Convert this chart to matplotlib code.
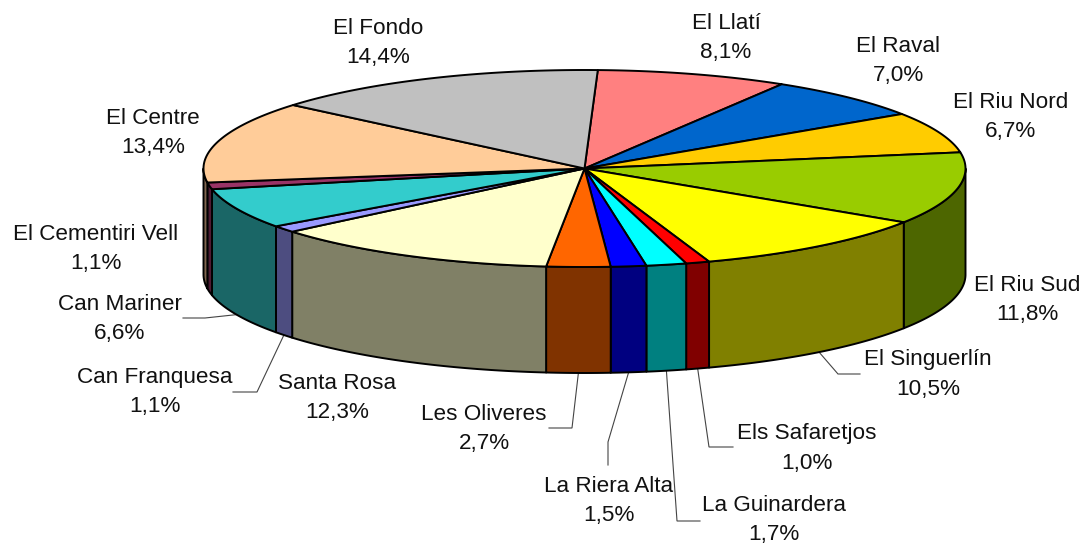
import numpy as np
import matplotlib
matplotlib.use("Agg")
import matplotlib.pyplot as plt
from matplotlib.patches import Polygon

plt.rcParams['font.family'] = ['Liberation Sans', 'DejaVu Sans']

# ---- data (clockwise from the top of the pie) ----
names = ["El Llatí", "El Raval", "El Riu Nord", "El Riu Sud", "El Singuerlín",
         "Els Safaretjos", "La Guinardera", "La Riera Alta", "Les Oliveres",
         "Santa Rosa", "Can Franquesa", "Can Mariner", "El Cementiri Vell",
         "El Centre", "El Fondo"]
values = [8.1, 7.0, 6.7, 11.8, 10.5, 1.0, 1.7, 1.5, 2.7, 12.3, 1.1, 6.6, 1.1, 13.4, 14.4]
top_colors = ["#FF8080", "#0066CC", "#FFCC00", "#99CC00", "#FFFF00", "#FF0000", "#00FFFF",
              "#0000FF", "#FF6600", "#FFFFCC", "#9999FF", "#33CCCC", "#993366", "#FFCC99", "#C0C0C0"]
side_colors = ["#804040", "#003366", "#806600", "#4D6600", "#808000", "#800000", "#008080",
               "#000080", "#803300", "#808066", "#4D4D80", "#1A6666", "#4D1A33", "#806650", "#606060"]

# ---- layout (pixels of the 1085x544 picture) ----
CX, CY, RX, RY, DEPTH = 584.5, 168.5, 381.0, 98.5, 106.0
START = 2.0
label_pos = [(726, 38), (898, 60.5), (1011, 116.5), (1027, 300), (928, 374.5),
             (807, 448.5), (774, 520), (609, 500.5), (484, 429),
             (337, 398), (155, 392), (120, 318.5), (96, 248.5), (153, 132.5), (378, 43.5)]
# label-side points of the leader lines, per slice name
leaders = {
    "El Singuerlín": [(838, 374), (860, 374)],
    "Els Safaretjos": [(709, 447), (733, 447)],
    "La Guinardera": [(677, 521), (700, 521)],
    "La Riera Alta": [(608, 442), (608, 465)],
    "Les Oliveres": [(572, 428), (549, 428)],
    "Can Franquesa": [(257, 392), (233, 392)],
    "Can Mariner": [(205, 318), (183, 318)],
}

fig = plt.figure(figsize=(10.85, 5.44), dpi=100)
ax = fig.add_axes([0, 0, 1, 1])
ax.set_xlim(0, 1085)
ax.set_ylim(544, 0)
ax.axis("off")


def rim(theta_deg, dy=0.0):
    t = np.radians(theta_deg)
    return np.column_stack([CX + RX * np.sin(t), CY - RY * np.cos(t) + dy])


EDGE = dict(edgecolor="black", linewidth=1.4, joinstyle="round")
total = sum(values)
edges = START + 360.0 * np.concatenate([[0], np.cumsum(values)]) / total

# side walls (only the front half of the rim is visible)
for i in range(len(values)):
    a, b = max(edges[i], 90.0), min(edges[i + 1], 270.0)
    if b <= a:
        continue
    th = np.linspace(a, b, 80)
    pts = np.vstack([rim(th), rim(th[::-1], DEPTH)])
    ax.add_patch(Polygon(pts, closed=True, facecolor=side_colors[i], zorder=2, **EDGE))

# top faces
for i in range(len(values)):
    th = np.linspace(edges[i], edges[i + 1], 120)
    pts = np.vstack([[CX, CY], rim(th)])
    ax.add_patch(Polygon(pts, closed=True, facecolor=top_colors[i], zorder=3, **EDGE))

# leader lines start on the lower rim at the slice's middle angle
for i, name in enumerate(names):
    if name in leaders:
        mid = (edges[i] + edges[i + 1]) / 2
        start = rim(np.array([mid]), DEPTH)
        line = np.vstack([start, leaders[name]])
        ax.plot(line[:, 0], line[:, 1], color="#444444", lw=0.8, zorder=1,
                solid_joinstyle="miter")

# labels
for name, v, (x, y) in zip(names, values, label_pos):
    txt = f"{name}\n{v:.1f}%".replace(".", ",")
    ax.text(x, y, txt, ha="center", va="center", fontsize=16.2, color="#111111",
            linespacing=1.5, zorder=5)

fig.savefig("out.png", dpi=100, facecolor="white")
